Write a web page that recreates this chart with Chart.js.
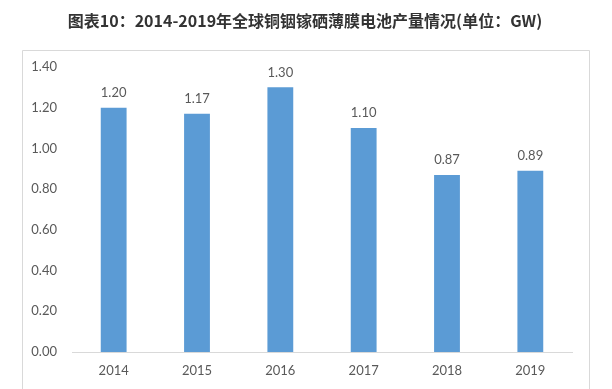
<!DOCTYPE html>
<html>
<head>
<meta charset="utf-8">
<script src="https://cdn.jsdelivr.net/npm/chart.js@4"></script>
<style>
  html, body { margin: 0; padding: 0; background: #fff; }
  #wrap { width: 612px; height: 389px; position: relative; }
</style>
</head>
<body>
<div id="wrap"><canvas id="grafico"></canvas></div>
<script>
const titulo = '图表10：2014-2019年全球铜铟镓硒薄膜电池产量情况(单位：GW)';
const anios = ['2014', '2015', '2016', '2017', '2018', '2019'];
const produccion = [1.20, 1.17, 1.30, 1.10, 0.87, 0.89];
const ejeMax = 1.4;
const ejePaso = 0.2;

const colorBarra = '#5B9BD5';
const colorTexto = '#595959';
const colorLinea = '#D9D9D9';

// marco gris y titulo
const marco = {
  id: 'marco',
  beforeDraw(chart) {
    const c = chart.ctx;
    c.save();
    c.fillStyle = '#fff';
    c.fillRect(0, 0, chart.width, chart.height);
    c.strokeStyle = colorLinea;
    c.lineWidth = 1;
    c.beginPath();
    c.moveTo(22.5, chart.height + 2);
    c.lineTo(22.5, 50.5);
    c.lineTo(589.5, 50.5);
    c.lineTo(589.5, chart.height + 2);
    c.stroke();
    c.fillStyle = '#333333';
    c.font = 'bold 16px "Noto Sans CJK SC"';
    c.textAlign = 'center';
    c.textBaseline = 'middle';
    c.fillText(titulo, 305, 21);
    c.restore();
  }
};

// etiquetas de valor encima de cada barra
const etiquetas = {
  id: 'etiquetas',
  afterDatasetsDraw(chart) {
    const c = chart.ctx;
    const meta = chart.getDatasetMeta(0);
    c.save();
    c.fillStyle = colorTexto;
    c.font = '13px Lato';
    c.textAlign = 'center';
    c.textBaseline = 'middle';
    meta.data.forEach((bar, i) => {
      c.fillText(produccion[i].toFixed(2), bar.x, bar.y - 15);
    });
    c.restore();
  }
};

const ctx = document.getElementById('grafico');
new Chart(ctx, {
  type: 'bar',
  data: {
    labels: anios,
    datasets: [{
      label: '产量',
      data: produccion,
      backgroundColor: colorBarra,
      borderWidth: 0,
      categoryPercentage: 1,
      barPercentage: 0.31
    }]
  },
  options: {
    responsive: true,
    maintainAspectRatio: false,
    animation: false,
    layout: { padding: { top: 67, right: 40, bottom: 0, left: 0 } },
    plugins: {
      legend: { display: false },
      tooltip: { enabled: false }
    },
    scales: {
      x: {
        grid: { display: false },
        border: { display: true, color: colorLinea, width: 1 },
        ticks: { color: colorTexto, font: { family: 'Lato', size: 13 }, padding: 3 },
        afterFit(scale) { scale.height = 37; }
      },
      y: {
        min: 0,
        max: ejeMax,
        grid: { display: false, drawTicks: false },
        border: { display: false },
        ticks: {
          stepSize: ejePaso,
          color: colorTexto,
          font: { family: 'Lato', size: 13 },
          padding: 15,
          callback: v => v.toFixed(2)
        },
        afterFit(scale) { scale.width = 72; }
      }
    }
  },
  plugins: [marco, etiquetas]
});
</script>
</body>
</html>
